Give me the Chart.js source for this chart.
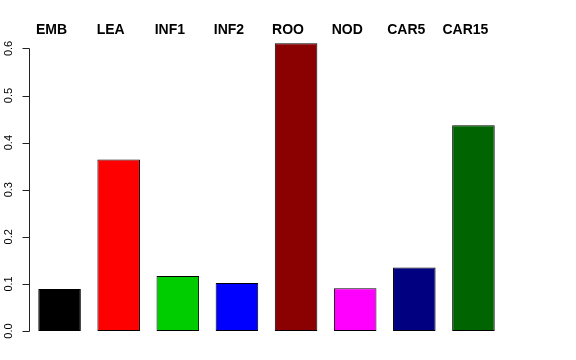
<!DOCTYPE html>
<html>
<head>
<meta charset="utf-8">
<script src="https://cdn.jsdelivr.net/npm/chart.js@4/dist/chart.umd.min.js"></script>
<style>
  html, body { margin: 0; padding: 0; background: #fff; }
  #wrap { width: 576px; height: 360px; }
</style>
</head>
<body>
<div id="wrap"><canvas id="barChart"></canvas></div>
<script>
// data
const tissues = ['EMB', 'LEA', 'INF1', 'INF2', 'ROO', 'NOD', 'CAR5', 'CAR15'];
const values = [0.089, 0.364, 0.117, 0.102, 0.611, 0.091, 0.135, 0.437];
const barColors = ['#000000', '#ff0000', '#00cd00', '#0000ff', '#8b0000', '#ff00ff', '#000080', '#006400'];
const yTicks = [0, 0.1, 0.2, 0.3, 0.4, 0.5, 0.6];

// axis line and tick marks only over the tick range, like R's axis()
const axisLine = {
    id: 'axisLine',
    afterDatasetsDraw(chart) {
        const y = chart.scales.y;
        const ctx = chart.ctx;
        const x = chart.chartArea.left - 0.5;
        ctx.save();
        ctx.strokeStyle = '#222';
        ctx.lineWidth = 1;
        ctx.beginPath();
        ctx.moveTo(x, Math.round(y.getPixelForValue(yTicks[0])) + 0.5);
        ctx.lineTo(x, Math.round(y.getPixelForValue(yTicks[yTicks.length - 1])) + 0.5);
        yTicks.forEach(v => {
            const py = Math.round(y.getPixelForValue(v)) + 0.5;
            ctx.moveTo(x, py);
            ctx.lineTo(x - 7, py);
        });
        ctx.stroke();
        ctx.restore();
    }
};

new Chart(document.getElementById('barChart'), {
    type: 'bar',
    data: {
        labels: tissues,
        datasets: [{
            data: values,
            backgroundColor: barColors,
            borderColor: '#000',
            borderWidth: 1,
            borderSkipped: false,
            barPercentage: 0.72,
            categoryPercentage: 1.0
        }]
    },
    options: {
        responsive: true,
        maintainAspectRatio: false,
        animation: false,
        layout: { padding: { top: 0, right: 73, bottom: 29, left: 0 } },
        plugins: {
            legend: { display: false },
            tooltip: { enabled: false }
        },
        scales: {
            x: {
                position: 'top',
                grid: { display: false, drawTicks: false },
                border: { display: false },
                ticks: {
                    color: '#000',
                    padding: 0,
                    labelOffset: -8,
                    maxRotation: 0,
                    font: { family: 'Liberation Sans', size: 14, weight: 'bold' }
                },
                afterFit: (scale) => { scale.height = 39; }
            },
            y: {
                min: 0,
                max: 0.62,
                grid: { display: false, drawTicks: false },
                border: { display: false },
                afterBuildTicks: (scale) => {
                    scale.ticks = yTicks.map(v => ({ value: v }));
                },
                ticks: {
                    color: '#000',
                    minRotation: 90,
                    maxRotation: 90,
                    crossAlign: 'center',
                    padding: 13,
                    font: { family: 'Liberation Sans', size: 11 },
                    callback: (v) => v.toFixed(1)
                },
                afterFit: (scale) => { scale.width = 30; }
            }
        }
    },
    plugins: [axisLine]
});
</script>
</body>
</html>
